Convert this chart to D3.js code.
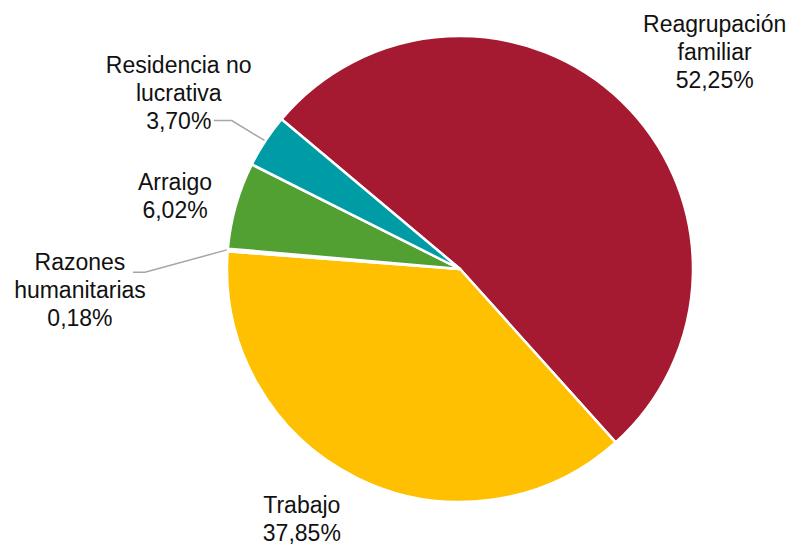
<!DOCTYPE html>
<html>
<head>
<meta charset="utf-8">
<script src="https://cdn.jsdelivr.net/npm/d3@7"></script>
<style>
  html, body { margin: 0; padding: 0; background: #fff; }
  svg { display: block; }
</style>
</head>
<body>
<svg id="chart"></svg>
<script>
// data
const categories = ["Reagrupación familiar", "Trabajo", "Razones humanitarias", "Arraigo", "Residencia no lucrativa"];
const values = [52.25, 37.85, 0.18, 6.02, 3.70];
const valueLabels = ["52,25%", "37,85%", "0,18%", "6,02%", "3,70%"];
const labelLines = [
  ["Reagrupación", "familiar"],
  ["Trabajo"],
  ["Razones", "humanitarias"],
  ["Arraigo"],
  ["Residencia no", "lucrativa"]
];
const colors = ["#A51A30", "#FEC000", "#F2F2F2", "#52A032", "#009CA6"];

const width = 795;
const height = 546;
const cx = 460, cy = 269, radius = 233;
const lineH = 28;

// label offsets from a centroid at labelRadius (first baseline)
const labelRadius = 290;
const labelOffsets = [[53, -29], [-30, -16], [-91, 25], [-6, 0], [-39, -37]];
// leader lines: [end, elbow] as offsets from label anchor, or null
const leaders = [null, null, [[53, 2], [65, 2]], null, [[35, 48], [53, 48]]];

const svg = d3.select("#chart").attr("width", width).attr("height", height);

const pie = d3.pie()
  .sort(null)
  .startAngle(-50 * Math.PI / 180)
  .endAngle(310 * Math.PI / 180)
  .value((d) => d);

const arcs = pie(values);

const arc = d3.arc().innerRadius(0).outerRadius(radius);
const labelArc = d3.arc().innerRadius(labelRadius).outerRadius(labelRadius);

const g = svg.append("g").attr("transform", `translate(${cx},${cy})`);

g.selectAll("path")
  .data(arcs)
  .enter()
  .append("path")
  .attr("d", arc)
  .attr("fill", (d, i) => colors[i])
  .attr("stroke", "#fff")
  .attr("stroke-width", 2.5)
  .attr("stroke-linejoin", "round");

// leader lines
arcs.forEach((d, i) => {
  if (!leaders[i]) return;
  const mid = (d.startAngle + d.endAngle) / 2;
  const p0 = [Math.sin(mid) * (radius + 1), -Math.cos(mid) * (radius + 1)];
  const c = labelArc.centroid(d);
  const ax = c[0] + labelOffsets[i][0];
  const ay = c[1] + labelOffsets[i][1];
  const [end, elbow] = leaders[i];
  g.append("polyline")
    .attr("points", [p0, [ax + elbow[0], ay + elbow[1]], [ax + end[0], ay + end[1]]].map((p) => p.join(",")).join(" "))
    .attr("fill", "none")
    .attr("stroke", "#A6A6A6")
    .attr("stroke-width", 1.5);
});

// labels
arcs.forEach((d, i) => {
  const c = labelArc.centroid(d);
  const ax = c[0] + labelOffsets[i][0];
  const ay = c[1] + labelOffsets[i][1];
  const lines = labelLines[i].concat([valueLabels[i]]);
  const t = g.append("text")
    .attr("x", ax)
    .attr("y", ay)
    .attr("text-anchor", "middle")
    .attr("font-family", "'Liberation Sans', Arial, sans-serif")
    .attr("font-size", 23)
    .attr("fill", "#111");
  lines.forEach((s, k) => {
    t.append("tspan").attr("x", ax).attr("y", ay + k * lineH).text(s);
  });
});
</script>
</body>
</html>
